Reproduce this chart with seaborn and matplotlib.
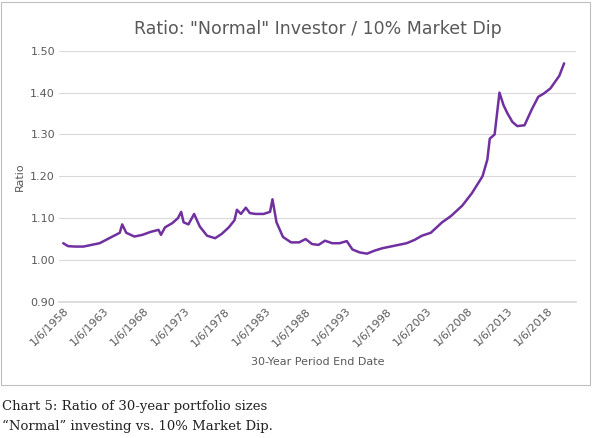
import matplotlib
matplotlib.use("Agg")
import matplotlib.pyplot as plt
import seaborn as sns
import pandas as pd
from matplotlib.patches import Rectangle

# === Data (fractional years) ===
years = [1958.0, 1958.6, 1959.5, 1960.5, 1961.5, 1962.5, 1963.3, 1964.2, 1965.0, 1965.3,
         1965.8, 1966.8, 1967.8, 1968.8, 1969.8, 1970.1, 1970.6, 1971.5, 1972.2, 1972.6,
         1972.9, 1973.5, 1974.2, 1974.9, 1975.8, 1976.8, 1977.6, 1978.5, 1979.2, 1979.5,
         1980.0, 1980.6, 1981.1, 1981.8, 1982.8, 1983.6, 1983.9, 1984.4, 1985.2, 1986.2,
         1987.2, 1988.0, 1988.8, 1989.6, 1990.4, 1991.3, 1992.2, 1993.1, 1993.8, 1994.7,
         1995.6, 1996.5, 1997.5, 1998.5, 1999.5, 2000.5, 2001.5, 2002.4, 2003.5, 2004.9,
         2006.0, 2007.4, 2008.6, 2009.9, 2010.5, 2010.8, 2011.4, 2012.0, 2012.5, 2013.0,
         2013.6, 2014.2, 2015.1, 2016.0, 2016.8, 2017.5, 2018.3, 2019.4, 2020.0]
ratio = [1.040, 1.033, 1.032, 1.032, 1.036, 1.040, 1.048, 1.057, 1.065, 1.085,
         1.065, 1.056, 1.060, 1.067, 1.072, 1.060, 1.078, 1.088, 1.100, 1.115,
         1.090, 1.085, 1.110, 1.080, 1.058, 1.052, 1.062, 1.078, 1.095, 1.120,
         1.110, 1.125, 1.112, 1.110, 1.110, 1.115, 1.145, 1.090, 1.055, 1.042,
         1.042, 1.050, 1.038, 1.036, 1.046, 1.040, 1.040, 1.045, 1.025, 1.018,
         1.015, 1.022, 1.028, 1.032, 1.036, 1.040, 1.048, 1.058, 1.065, 1.090,
         1.105, 1.130, 1.160, 1.200, 1.240, 1.290, 1.300, 1.400, 1.370, 1.350,
         1.330, 1.320, 1.322, 1.360, 1.390, 1.398, 1.410, 1.440, 1.470]
tick_years = list(range(1958, 2019, 5))
tick_labels = [f"1/6/{y}" for y in tick_years]

df = pd.DataFrame({"year": years, "ratio": ratio})

# === Chart ===
sns.set_theme(style="white")
fig = plt.figure(figsize=(6.04, 4.38), dpi=100)
ax = fig.add_axes([0.098, 0.311, 0.856, 0.573])

sns.lineplot(data=df, x="year", y="ratio", color="#7030A0", linewidth=1.8, ax=ax)

ax.set_xlim(1957.5, 2021.5)
ax.set_ylim(0.9, 1.5)
ax.set_yticks([0.9, 1.0, 1.1, 1.2, 1.3, 1.4, 1.5])
ax.set_yticklabels([f"{v:.2f}" for v in ax.get_yticks()], fontsize=8, color="#595959")
ax.set_xticks(tick_years)
ax.set_xticklabels(tick_labels, rotation=45, ha="right", rotation_mode="anchor",
                   fontsize=8, color="#595959")
ax.yaxis.grid(True, color="#d9d9d9", linewidth=0.8)
for s in ["top", "right", "left"]:
    ax.spines[s].set_visible(False)
ax.spines["bottom"].set_color("#d9d9d9")
ax.tick_params(axis="both", length=0, pad=3)
ax.set_xlabel("30-Year Period End Date", fontsize=8, color="#595959", labelpad=6)
ax.set_ylabel("Ratio", fontsize=8, color="#595959")
ax.set_title('Ratio: "Normal" Investor / 10% Market Dip', fontsize=12.5, color="#595959", pad=12)

# chart border
fig.patches.append(Rectangle((0.002, 0.12), 0.975, 0.875, transform=fig.transFigure,
                             fill=False, edgecolor="#bfbfbf", linewidth=0.8))

fig.text(0.003, 0.065, "Chart 5: Ratio of 30-year portfolio sizes", fontsize=9.5,
         family="DejaVu Serif", color="#222222")
fig.text(0.003, 0.018, "\u201cNormal\u201d investing vs. 10% Market Dip.", fontsize=9.5,
         family="DejaVu Serif", color="#222222")

plt.savefig("out.png", dpi=100)
plt.close()
